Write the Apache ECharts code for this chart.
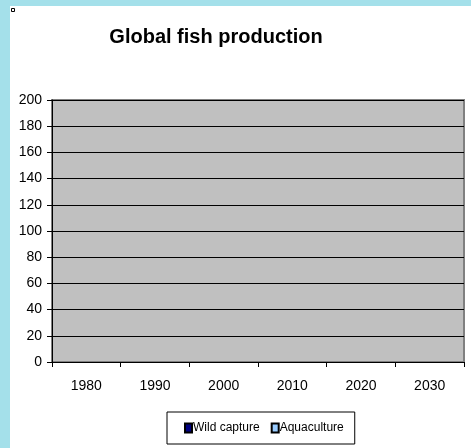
<!DOCTYPE html>
<html>
<head>
<meta charset="utf-8">
<script src="https://cdn.jsdelivr.net/npm/echarts@6/dist/echarts.min.js"></script>
<style>
html, body { margin: 0; padding: 0; background: #a4e0ea; }
#chart { position: absolute; left: 10px; top: 6px; width: 461px; height: 442px; background: #ffffff; }
</style>
</head>
<body>
<div id="chart"></div>
<script>
// data
var years = ['1980', '1990', '2000', '2010', '2020', '2030'];
var wildCapture = [null, null, null, null, null, null];
var aquaculture = [null, null, null, null, null, null];
var yTicks = { min: 0, max: 200, step: 20 };

var fontFam = 'Liberation Sans';
var fishChart = echarts.init(document.getElementById('chart'));

fishChart.setOption({
	animation : false,
	title : {
		text : 'Global fish production',
		left : 201,
		top : 16,
		textAlign : 'center',
		textStyle : {
			fontFamily : fontFam,
			fontSize : 20,
			fontWeight : 'bold',
			color : '#000'
		}
	},
	legend : {
		top : 406,
		left : 157,
		itemWidth : 7,
		itemHeight : 9,
		itemGap : 11,
		icon : 'rect',
		borderColor : '#000',
		borderWidth : 1,
		borderRadius : 0,
		padding : [ 10, 11, 10, 17 ],
		textStyle : {
			fontFamily : fontFam,
			fontSize : 12,
			color : '#000',
			padding : [ 0, 0, 0, -4 ]
		},
		data : [ 'Wild capture', 'Aquaculture' ]
	},
	grid : {
		left : 42,
		top : 94,
		right : 7,
		bottom : 86,
		show : true,
		backgroundColor : '#c0c0c0',
		borderColor : '#808080',
		borderWidth : 2
	},
	xAxis : {
		type : 'category',
		data : years,
		axisLine : { lineStyle : { color : '#000', width : 1 } },
		axisTick : { show : true, length : 5, lineStyle : { color : '#000' } },
		axisLabel : {
			fontFamily : fontFam,
			fontSize : 14,
			color : '#000',
			margin : 17
		}
	},
	yAxis : {
		type : 'value',
		min : yTicks.min,
		max : yTicks.max,
		interval : yTicks.step,
		axisLine : { show : true, lineStyle : { color : '#000', width : 1 } },
		axisTick : { show : true, length : 5, lineStyle : { color : '#000' } },
		splitLine : { lineStyle : { color : '#000', width : 1 } },
		axisLabel : {
			fontFamily : fontFam,
			fontSize : 14,
			color : '#000',
			margin : 10
		}
	},
	graphic : [ {
		type : 'rect',
		left : 1,
		top : 2,
		shape : { width : 3, height : 3 },
		style : { fill : '#fff', stroke : '#000', lineWidth : 1 }
	} ],
	series : [ {
		name : 'Wild capture',
		type : 'bar',
		stack : 'fish',
		itemStyle : { color : '#000080', borderColor : '#000', borderWidth : 0.5 },
		data : wildCapture
	}, {
		name : 'Aquaculture',
		type : 'bar',
		stack : 'fish',
		itemStyle : { color : '#99ccff', borderColor : '#000', borderWidth : 0.5 },
		data : aquaculture
	} ]
});
</script>
</body>
</html>
